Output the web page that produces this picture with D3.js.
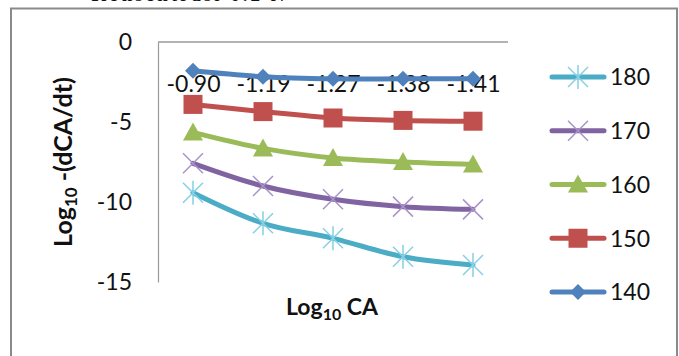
<!DOCTYPE html>
<html>
<head>
<meta charset="utf-8">
<script src="https://cdn.jsdelivr.net/npm/d3@7"></script>
<style>
  html, body { margin: 0; padding: 0; background: #fff; }
  svg { display: block; }
  text { font-family: Lato, "Open Sans", "Liberation Sans", sans-serif; fill: #111; }
</style>
</head>
<body>
<svg id="chart" width="679" height="356"></svg>
<script>
// Categories along the horizontal axis (Log10 CA)
const categories = ["-0.90", "-1.19", "-1.27", "-1.38", "-1.41"];

// Log10 -(dCA/dt) for each temperature
const temp140 = [-1.8, -2.17, -2.3, -2.3, -2.3];
const temp150 = [-3.9, -4.35, -4.75, -4.9, -4.95];
const temp160 = [-5.65, -6.65, -7.25, -7.5, -7.65];
const temp170 = [-7.58, -9.0, -9.83, -10.29, -10.46];
const temp180 = [-9.42, -11.33, -12.27, -13.42, -13.94];

const yTicks = [0, -5, -10, -15];

const seriesList = [
  { name: "180", values: temp180, line: "#4BACC6", mark: "#86D0E4", shape: "star" },
  { name: "170", values: temp170, line: "#8064A2", mark: "#A893C9", shape: "cross" },
  { name: "160", values: temp160, line: "#9BBB59", mark: "#9BBB59", shape: "triangle" },
  { name: "150", values: temp150, line: "#C0504D", mark: "#C0504D", shape: "square" },
  { name: "140", values: temp140, line: "#4F81BD", mark: "#4F81BD", shape: "diamond" }
];

const svg = d3.select("#chart");

// Caption line above the chart frame (runs off the top of the page)
svg.append("text")
  .attr("x", 188).attr("y", 1)
  .attr("text-anchor", "middle")
  .attr("textLength", 193)
  .style("font-family", "'Liberation Serif', serif")
  .style("font-weight", "bold")
  .style("font-size", "19px")
  .text("Konsentrasi 0.2 N");

// Chart frame
svg.append("rect")
  .attr("x", 11).attr("y", 8.5)
  .attr("width", 666).attr("height", 360)
  .attr("fill", "none")
  .attr("stroke", "#8a8a8a")
  .attr("stroke-width", 2);

const plot = { left: 158, right: 508, top: 42, bottom: 282 };

const x = d3.scalePoint().domain(categories).range([plot.left, plot.right]).padding(0.5);
const y = d3.scaleLinear().domain([-15, 0]).range([plot.bottom, plot.top]);

const tickFont = "23px";

// Vertical axis
const yAxis = svg.append("g")
  .attr("transform", `translate(${plot.left},0)`)
  .call(d3.axisLeft(y).tickValues(yTicks).tickSize(0).tickPadding(26).tickFormat(d3.format("d")));
yAxis.select(".domain").attr("stroke", "#9a9a9a").attr("stroke-width", 1.2);
yAxis.selectAll("text")
  .style("font-size", tickFont)
  .style("font-family", "Lato, 'Open Sans', sans-serif")
  .attr("fill", "#111")
  .text(d => d === 0 ? "0" : "-" + Math.abs(d));

// Horizontal axis crosses at zero (top of the plot)
const xAxis = svg.append("g")
  .attr("transform", `translate(0,${y(0)})`)
  .call(d3.axisBottom(x).tickSize(0).tickPadding(34));
xAxis.select(".domain").attr("stroke", "#9a9a9a").attr("stroke-width", 1.5)
  .attr("d", `M${plot.left},0H${plot.right}`);
xAxis.selectAll("text")
  .style("font-size", tickFont)
  .style("font-family", "Lato, 'Open Sans', sans-serif")
  .attr("fill", "#111");

// Smoothed series lines
const line = d3.line()
  .x((d, i) => x(categories[i]))
  .y(d => y(d))
  .curve(d3.curveCatmullRom.alpha(0.5));

function drawMarker(g, shape, color, cx, cy) {
  if (shape === "diamond") {
    g.append("path")
      .attr("d", `M${cx},${cy - 8}L${cx + 8},${cy}L${cx},${cy + 8}L${cx - 8},${cy}Z`)
      .attr("fill", color);
  } else if (shape === "square") {
    g.append("rect").attr("x", cx - 9.5).attr("y", cy - 9.5)
      .attr("width", 19).attr("height", 19).attr("fill", color);
  } else if (shape === "triangle") {
    g.append("path")
      .attr("d", `M${cx},${cy - 10}L${cx + 10},${cy + 8}L${cx - 10},${cy + 8}Z`)
      .attr("fill", color);
  } else if (shape === "cross") {
    g.append("path")
      .attr("d", `M${cx - 10},${cy - 10}L${cx + 10},${cy + 10}M${cx - 10},${cy + 10}L${cx + 10},${cy - 10}`)
      .attr("stroke", color).attr("stroke-width", 1.5).attr("fill", "none");
  } else if (shape === "star") {
    g.append("path")
      .attr("d", `M${cx - 10},${cy - 10}L${cx + 10},${cy + 10}M${cx - 10},${cy + 10}L${cx + 10},${cy - 10}M${cx},${cy - 12}V${cy + 12}`)
      .attr("stroke", color).attr("stroke-width", 1.5).attr("fill", "none");
  }
}

seriesList.forEach(s => {
  const g = svg.append("g");
  g.append("path")
    .datum(s.values)
    .attr("d", line)
    .attr("fill", "none")
    .attr("stroke", s.line)
    .attr("stroke-width", 5)
    .attr("stroke-linecap", "round");
  s.values.forEach((v, i) => drawMarker(g, s.shape, s.mark, x(categories[i]), y(v)));
});

// Axis titles
const yTitle = svg.append("text")
  .attr("transform", "translate(72,162) rotate(-90)")
  .attr("text-anchor", "middle")
  .style("font-weight", "bold")
  .style("font-size", "25px");
yTitle.append("tspan").text("Log");
yTitle.append("tspan").attr("dy", 5).style("font-size", "17px").text("10");
yTitle.append("tspan").attr("dy", -5).text(" -(dCA/dt)");

const xTitle = svg.append("text")
  .attr("x", 332).attr("y", 315)
  .attr("text-anchor", "middle")
  .style("font-weight", "bold")
  .style("font-size", "23px");
xTitle.append("tspan").text("Log");
xTitle.append("tspan").attr("dy", 5).style("font-size", "16px").text("10");
xTitle.append("tspan").attr("dy", -5).text(" CA");

// Legend
const legendY = d3.scalePoint().domain(seriesList.map(s => s.name)).range([77, 292]);
seriesList.forEach(s => {
  const ly = legendY(s.name);
  const g = svg.append("g");
  g.append("line")
    .attr("x1", 552).attr("x2", 604).attr("y1", ly).attr("y2", ly)
    .attr("stroke", s.line).attr("stroke-width", 5).attr("stroke-linecap", "round");
  drawMarker(g, s.shape, s.mark, 578, ly);
  g.append("text")
    .attr("x", 610).attr("y", ly).attr("dy", "0.36em")
    .style("font-size", tickFont)
    .text(s.name);
});
</script>
</body>
</html>
